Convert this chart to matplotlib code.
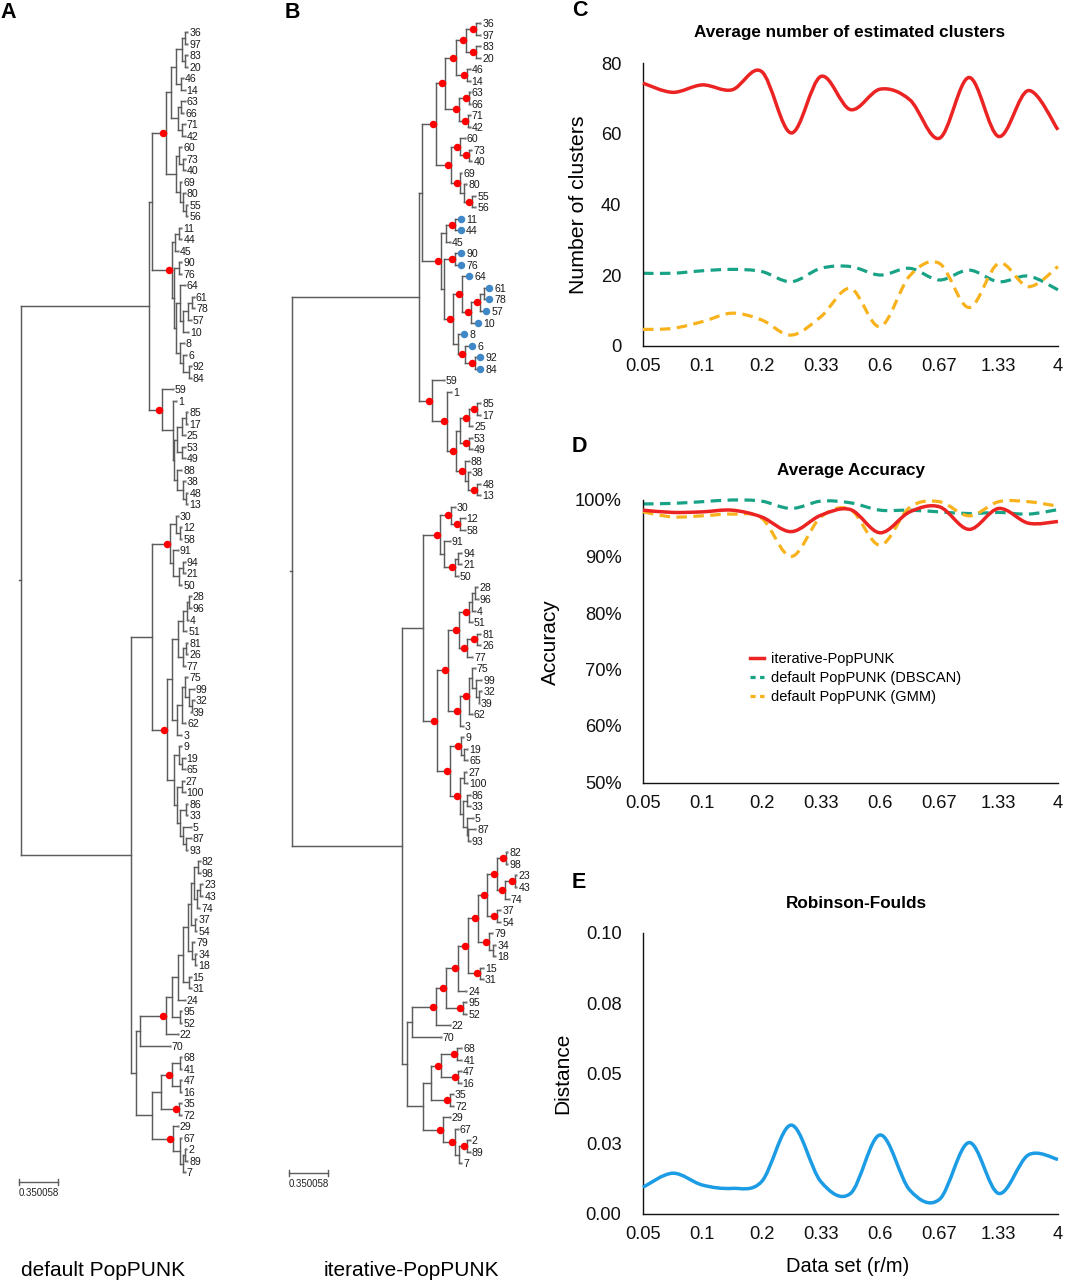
import matplotlib
matplotlib.use("Agg")
import matplotlib.pyplot as plt
from matplotlib.path import Path
from matplotlib.patches import PathPatch
from matplotlib.lines import Line2D
from matplotlib.collections import LineCollection

plt.rcParams["font.family"] = ["Liberation Sans", "DejaVu Sans"]

# ------------------------------------------------------------------ data
SCALE_BAR = 0.350058
# node depths (distance from root) below are read in 1/38.5 of the scale bar
DEPTH_UNIT = SCALE_BAR / 38.5

# Newick with cumulative depths; internal label "*" = red dot on node
A_T = ("(((((36:166.3,97:166.3):164,(83:166.3,20:166.3):164):160.7,(46:162,14:163.7):159.5):154.7,"
       "((63:163.7,66:162):160,(71:163.7,42:163.7):160.5):157.3):149.7,"
       "((60:160.3,(73:163.7,40:163.7):161.7):158.3,(69:160.3,(80:163.7,(55:166.3,56:166.3):164.5):161.5):158.5):154.7)*:145")
A_18 = ("(((11:160.3,44:160.3):157.5,45:157):153.5,((90:160.3,76:160.3):158,"
        "((64:163.7,(((61:173,78:173):170.5,57:169.7):166.5,10:167):162.3):159,"
        "(8:163,(6:165.3,(92:169.7,84:169.7):167.5):162.3):159):155):152.5)*:150.5")
A_32 = ("(59:152,(1:155.3,((((85:166.3,17:166.3):164.5,25:163.7):160.7,(53:163.7,49:163.7):160.7):155.7,"
        "(88:160.3,(38:163.7,(48:166.3,13:166.3):164.5):161.7):155.7):153):151.7)*:141")
A_43 = "((30:157,(12:160.3,58:160.3):158.5):154.7,(91:157,((94:163.7,21:163.7):161.5,50:160.3):158):152.3)*:148.7"
A_D = ("((((((28:169.7,96:169.7):168,4:167):165.7,51:165.3):162,((81:166.3,26:166.3):164.8,77:163.7):161.5):157.3,"
       "(((75:166.3,(99:173,(32:173,39:169.7):170.5):167.5):164,62:164.3):160.5,3:160.3):156):151.3,"
       "((9:160.3,(19:163.7,65:163.7):161):157.5,((27:163,100:163.7):161,"
       "((86:166.3,33:166.3):164.5,(5:169.7,(87:169.7,93:166.3):164.8):162.3):159):155.7):153)*:146")
A_E1a = ("((((((((82:178.7,98:178.7):176.5,((23:181.3,43:181.3):179,74:178):175.5):173.3,"
         "(37:175.3,54:175.3):173.5):169.7,(79:173,(34:175.3,18:175.3):173.8):170.5):167.3,"
         "(15:169.7,31:169.7):167.5):161.7,24:163.7):157.3,(95:160.3,52:160.3):158.5):150.7,22:157)*:145")
A_E2 = ("((((68:160.3,41:160.3):158.5,(47:160.3,16:160.3):158.5)*:151.3,(35:160.3,72:160.3)*:157.5):140,"
        "(29:157,(67:160.3,((2:165.3,89:166.3):164,7:163.7):161.7):158.5)*:152.3):131")
TREE_DEFAULT = ("(((" + A_T + "," + A_18 + "):131," + A_32 + "):128,((" + A_43 + "," + A_D +
                "):131,((" + A_E1a + ",70:148.7):119," + A_E2 + "):115):110);")

B_T = ("(((((36:188.3,97:188.3)*:184.3,(83:188.3,20:188.3)*:184.3)*:174.3,(46:177.7,14:177.7)*:175.3)*:164.3,"
       "((63:177.7,66:177.7)*:177,(71:177.7,42:177.7)*:176)*:166.7)*:153.3,"
       "((60:172.7,(73:179.3,40:179.3)*:177)*:168.3,(69:169.3,(80:174.3,(55:183.3,56:183.3)*:180):172)*:167.7)*:158.7)*:144")
B_18 = ("(((11:168.7,44:168.7)*:162.7,45:157.7):153.7,((90:168.7,76:168.7)*:163,"
        "((64:177,(((61:197,78:197):192,57:194)*:188,10:185.7)*:179.3)*:170,"
        "(8:172,(6:180.3,(92:188.3,84:188.3)*:183)*:173.3):166)*:161):151.5)*:149.3")
B_32 = ("(59:151.7,(1:159.3,((((85:188.3,17:188.3)*:185.3,25:180.3)*:177,(53:180,49:180)*:177):168,"
        "(88:176.7,(38:177.7,(48:188.3,13:188.3)*:185.3):175.5)*:172.7)*:163.7)*:155)*:140.3")
B_43 = "((30:162.7,(12:172.7,58:172.7)*:168.3)*:158.7,(91:157.7,((94:169.3,21:169.3):166,50:166)*:163.3):152)*:147.7"
B_D = ("((((((28:185.3,96:186):183,4:182.7):180,51:180)*:177,((81:188.3,26:188.3)*:185.3,77:180)*:175.3)*:166.7,"
       "(((75:182.7,(99:189.3,(32:189.3,39:186.7):186.5):184):179.5,62:180)*:176.7,3:171)*:168.3)*:156,"
       "((9:171,(19:175,65:175):172)*:168.7,((27:174.3,100:175):172,"
       "((86:177.7,33:177.7):175,(5:181,(87:183.3,93:177.7):176):174.5):171)*:168.3)*:157.7)*:145")
B_E1a = ("((((((((82:215.3,98:215.3)*:213.7,((23:224.3,43:224.3)*:222.7,74:216.7)*:213.3)*:205,"
         "(37:208.3,54:208.3)*:205.3)*:194.7,(79:200,(34:203.3,18:203.3):201)*:197)*:186,"
         "(15:191,31:191)*:188.3)*:176.3,24:174.3)*:166,(95:174.3,52:174.3)*:171)*:154.3,22:157.7)*:143.7")
B_E2 = ("((((68:169.3,41:169.3)*:165.3,(47:168.7,16:168.7)*:166)*:149.3,(35:161,72:161)*:157.7):139,"
        "(29:157.7,(67:166,((2:177.7,89:177.7)*:174.7,7:169.3):166.5)*:162.7)*:151):130.5")
TREE_ITERATIVE = ("(((" + B_T + "," + B_18 + "):130," + B_32 + "):127,((" + B_43 + "," + B_D +
                  "):131,((" + B_E1a + ",70:148.7):120," + B_E2 + "):115):110);")

BLUE_LEAVES = ["11", "44", "90", "76", "64", "61", "78", "57", "10", "8", "6", "92", "84"]

X_LABELS = ["0.05", "0.1", "0.2", "0.33", "0.6", "0.67", "1.33", "4"]

CLUSTERS_ITER = [74.3, 71.7, 73.8, 72.4, 77.6, 60.2, 76.2, 66.8, 72.6, 69.6, 58.7, 75.9, 59.2, 72.2, 61.1]
CLUSTERS_DBSCAN = [20.5, 20.5, 21.2, 21.6, 21.0, 18.1, 21.9, 22.4, 20.0, 21.9, 18.6, 21.4, 18.1, 19.7, 15.8]
CLUSTERS_GMM = [4.6, 4.9, 6.8, 9.2, 7.3, 3.0, 8.2, 16.2, 5.4, 19.8, 23.3, 10.8, 23.3, 16.7, 22.4]

ACC_ITER = [98.2, 97.8, 97.9, 98.2, 97.0, 94.4, 97.3, 98.3, 94.2, 97.9, 98.8, 94.8, 98.5, 95.9, 96.2]
ACC_DBSCAN = [99.3, 99.4, 99.7, 100.0, 99.8, 98.5, 99.8, 99.5, 98.2, 98.2, 97.9, 97.6, 97.8, 97.5, 98.3]
ACC_GMM = [97.9, 97.0, 97.2, 97.5, 96.8, 90.0, 97.0, 98.3, 92.0, 98.7, 99.7, 97.2, 99.7, 99.7, 98.9]

RF_DIST = [0.0095, 0.0145, 0.0103, 0.0091, 0.0115, 0.0316, 0.0115, 0.0073, 0.0281, 0.0085,
           0.0052, 0.0254, 0.0073, 0.0210, 0.0194]
RF_TICKS = [0.0, 0.025, 0.05, 0.075, 0.10]
RF_TICKLABELS = ["0.00", "0.03", "0.05", "0.08", "0.10"]

LEGEND_LABELS = ["iterative-PopPUNK", "default PopPUNK (DBSCAN)", "default PopPUNK (GMM)"]

# ------------------------------------------------------------------ styles
RED = "#ec2323"
TEAL = "#19a386"
ORANGE = "#f7b21c"
SKY = "#1c9ce4"
DOT_RED = "#ff0000"
DOT_BLUE = "#3f87c7"
TREE_GREY = "#5c5c5c"

W, H = 1077, 1280
fig = plt.figure(figsize=(W / 100, H / 100), dpi=100)
fig.patch.set_facecolor("white")


def fax(l, t, w, h):
    return fig.add_axes([l / W, 1 - (t + h) / H, w / W, h / H])


# ------------------------------------------------------------------ trees
def parse_newick(s):
    s = s.replace(" ", "")
    pos = 0

    def node():
        nonlocal pos
        n = {"ch": [], "name": "", "d": 0.0}
        if s[pos] == "(":
            pos += 1
            n["ch"].append(node())
            while s[pos] == ",":
                pos += 1
                n["ch"].append(node())
            pos += 1
        j = pos
        while pos < len(s) and s[pos] not in ":,();":
            pos += 1
        n["name"] = s[j:pos]
        if pos < len(s) and s[pos] == ":":
            pos += 1
            j = pos
            while pos < len(s) and s[pos] not in ",();":
                pos += 1
            n["d"] = float(s[j:pos])
        return n

    return node()


def layout(n, leaves):
    if not n["ch"]:
        n["y"] = len(leaves)
        leaves.append(n)
    else:
        for c in n["ch"]:
            layout(c, leaves)
        n["y"] = (n["ch"][0]["y"] + n["ch"][-1]["y"]) / 2.0


def collect(n, segs, reds):
    x = n["d"] * DEPTH_UNIT
    if n["ch"]:
        segs.append([(x, n["ch"][0]["y"]), (x, n["ch"][-1]["y"])])
        for c in n["ch"]:
            segs.append([(x, c["y"]), (c["d"] * DEPTH_UNIT, c["y"])])
            collect(c, segs, reds)
        if n["name"] == "*":
            reds.append(n)


def draw_tree(newick, left_px, first_leaf_px, blue, bar_x_px):
    step = 11.52
    root = parse_newick(newick)
    leaves = []
    layout(root, leaves)
    n = len(leaves)
    ax = fax(left_px, first_leaf_px - step / 2, 240, step * n)
    ax.set_xlim(0, 240 * DEPTH_UNIT)
    ax.set_ylim(n - 0.5, -0.5)
    ax.axis("off")
    segs, reds = [], []
    collect(root, segs, reds)
    segs.append([(-2 * DEPTH_UNIT, root["y"]), (0, root["y"])])
    ax.add_collection(LineCollection(segs, colors=TREE_GREY, linewidths=1.05,
                                     capstyle="projecting", clip_on=False))
    tx = [lf["d"] * DEPTH_UNIT for lf in leaves if lf["name"] not in blue]
    ty = [lf["y"] for lf in leaves if lf["name"] not in blue]
    ax.plot(tx, ty, "s", ms=1.7, color="#808080", mec="none", clip_on=False)
    for r in reds:
        ax.plot((r["d"] - 3) * DEPTH_UNIT, r["y"], "o", ms=5.4, color=DOT_RED,
                mec="none", zorder=4, clip_on=False)
    for lf in leaves:
        pad = 2.0
        if lf["name"] in blue:
            ax.plot(lf["d"] * DEPTH_UNIT, lf["y"], "o", ms=5.4, color=DOT_BLUE,
                    mec="none", zorder=4, clip_on=False)
            pad = 5.5
        ax.text((lf["d"] + pad) * DEPTH_UNIT, lf["y"], lf["name"], fontsize=7.6,
                color="#1a1a1a", ha="left", va="center_baseline", clip_on=False)
    # scale bar
    x0 = (bar_x_px - left_px) * DEPTH_UNIT
    yb = n - 1 + 0.83
    ax.plot([x0, x0 + SCALE_BAR], [yb, yb], color=TREE_GREY, lw=1.0, clip_on=False)
    for xe in (x0, x0 + SCALE_BAR):
        ax.plot([xe, xe], [yb - 0.28, yb + 0.28], color=TREE_GREY, lw=1.0, clip_on=False)
    ax.text(x0, yb + 0.93, f"{SCALE_BAR:.6f}", fontsize=7, color="#222222",
            ha="left", va="center", clip_on=False)
    return ax


draw_tree(TREE_DEFAULT, 21, 32, [], 19)
draw_tree(TREE_ITERATIVE, 292, 23, BLUE_LEAVES, 289)

fig.text(103 / W, 1 - 1270 / H, "default PopPUNK", fontsize=15, ha="center", va="center")
fig.text(411 / W, 1 - 1270 / H, "iterative-PopPUNK", fontsize=15, ha="center", va="center")


# ------------------------------------------------------------------ line panels
def smooth_path(xs, ys):
    pts = list(zip(xs, ys))
    n = len(pts)
    verts = [pts[0]]
    codes = [Path.MOVETO]
    for i in range(n - 1):
        p0 = pts[i - 1] if i > 0 else pts[i]
        p1, p2 = pts[i], pts[i + 1]
        p3 = pts[i + 2] if i + 2 < n else pts[i + 1]
        c1 = (p1[0] + (p2[0] - p0[0]) / 6.0, p1[1] + (p2[1] - p0[1]) / 6.0)
        c2 = (p2[0] - (p3[0] - p1[0]) / 6.0, p2[1] - (p3[1] - p1[1]) / 6.0)
        verts += [c1, c2, p2]
        codes += [Path.CURVE4] * 3
    return Path(verts, codes)


DASH = (0, (3.3, 2.0))


def panel(rect, series, ylim, yticks, yticklabels):
    ax = fax(*rect)
    ax.set_xlim(0, len(series[0][0]) - 1)
    ax.set_ylim(*ylim)
    for vals, color, lw, ls, z in series:
        p = smooth_path(range(len(vals)), vals)
        ax.add_patch(PathPatch(p, fill=False, edgecolor=color, lw=lw, linestyle=ls,
                               capstyle="butt", joinstyle="round", clip_on=False, zorder=z))
    ax.set_xticks(range(0, len(series[0][0]), 2))
    ax.set_xticklabels(X_LABELS)
    ax.set_yticks(yticks)
    ax.set_yticklabels(yticklabels)
    for s in ("top", "right"):
        ax.spines[s].set_visible(False)
    for s in ("left", "bottom"):
        ax.spines[s].set_linewidth(1.0)
        ax.spines[s].set_color("#111111")
    ax.tick_params(length=0, labelsize=13.2, colors="#111111")
    ax.tick_params(axis="y", pad=15.5)
    ax.tick_params(axis="x", pad=8.8)
    ax.patch.set_alpha(0)
    return ax


axC = panel((643, 63, 415, 282.7),
            [(CLUSTERS_DBSCAN, TEAL, 2.3, DASH, 2),
             (CLUSTERS_GMM, ORANGE, 2.3, DASH, 3),
             (CLUSTERS_ITER, RED, 2.5, "-", 4)],
            (0, 80), [0, 20, 40, 60, 80], ["0", "20", "40", "60", "80"])

acc_ticks = [50, 60, 70, 80, 90, 100]
axD = panel((643, 500, 415, 282.5),
            [(ACC_DBSCAN, TEAL, 2.3, DASH, 2),
             (ACC_GMM, ORANGE, 2.3, DASH, 3),
             (ACC_ITER, RED, 2.5, "-", 4)],
            (50, 100), acc_ticks, [f"{t}%" for t in acc_ticks])

axE = panel((643, 932.7, 415, 281.3),
            [(RF_DIST, SKY, 2.5, "-", 4)],
            (0, 0.10), RF_TICKS, RF_TICKLABELS)

handles = [Line2D([], [], color=RED, lw=2.5),
           Line2D([], [], color=TEAL, lw=2.3, ls=(0, (1.6, 1.4))),
           Line2D([], [], color=ORANGE, lw=2.3, ls=(0, (1.6, 1.4)))]
axD.legend(handles, LEGEND_LABELS, loc="upper left", bbox_to_anchor=(750 / W, 1 - 652 / H),
           bbox_transform=fig.transFigure, frameon=False, fontsize=10.5, handlelength=0.95,
           handletextpad=0.5, labelspacing=0.33, borderpad=0, borderaxespad=0)

# titles / axis labels
fig.text(850 / W, 1 - 33 / H, "Average number of estimated clusters", fontsize=12.3,
         fontweight="bold", ha="center", va="center")
fig.text(851 / W, 1 - 471 / H, "Average Accuracy", fontsize=12.3, fontweight="bold",
         ha="center", va="center")
fig.text(856 / W, 1 - 903 / H, "Robinson-Foulds", fontsize=12.3, fontweight="bold",
         ha="center", va="center")
fig.text(579 / W, 1 - 205 / H, "Number of clusters", fontsize=15.3, rotation=90,
         ha="center", va="center")
fig.text(550 / W, 1 - 642 / H, "Accuracy", fontsize=15, rotation=90, ha="center", va="center")
fig.text(563 / W, 1 - 1073 / H, "Distance", fontsize=15, rotation=90, ha="center", va="center")
fig.text(848 / W, 1 - 1267 / H, "Data set (r/m)", fontsize=14.5, ha="center", va="center")

# panel letters
for lab, x, y in [("A", 0, 12.5), ("B", 285, 12.5), ("C", 572, 11), ("D", 572, 447), ("E", 572, 882)]:
    fig.text(x / W, 1 - y / H, lab, fontsize=15.5, fontweight="bold", ha="left", va="center")

fig.savefig("out.png", dpi=100, facecolor="white")
